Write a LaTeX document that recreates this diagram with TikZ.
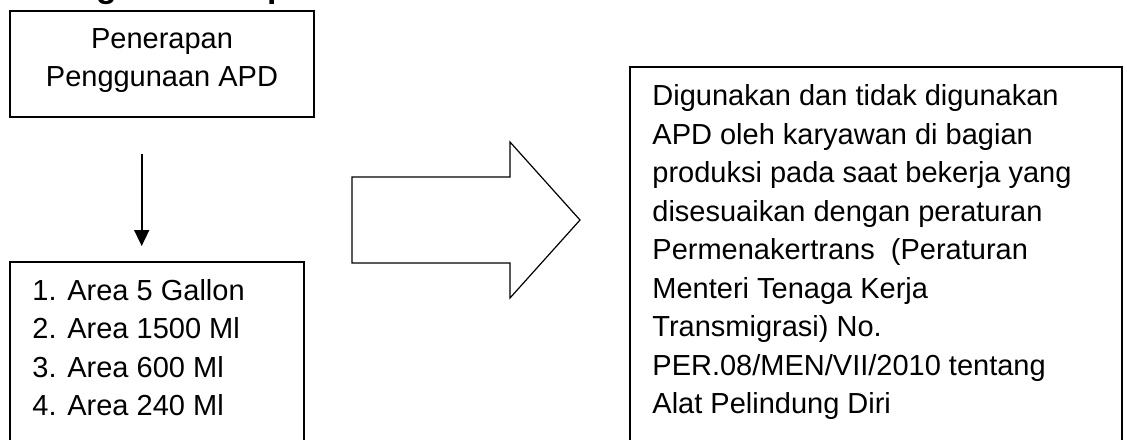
\documentclass[tikz,border=0pt]{standalone}
\usepackage{fontspec}
\setmainfont{Liberation Sans}
\usetikzlibrary{arrows.meta}

\tikzset{
  box/.style={draw, line width=0.6pt, inner sep=0pt},
  txt/.style={inner sep=0pt, anchor=north west, align=left,
    font=\fontsize{14.5}{19.25}\selectfont},
}

\begin{document}
\begin{tikzpicture}[x=0.5pt,y=-0.5pt]
          \useasboundingbox (0,0) rectangle (1127,439);
          \clip (0,0) rectangle (1127,439);

          % Heading (cut off by the page top)
          \node[anchor=base west, inner sep=0pt,
            font=\fontsize{16.9}{20}\selectfont\bfseries] (judul) at (0,-3) {Kerangka Konsep};

          % Variabel independen
          \node[box, minimum width=152pt, minimum height=53pt] (penerapan) at (162,64) {};
          \node[txt, anchor=north, align=center] (penerapanTxt) at (162,21)
            {\strut Penerapan\\Penggunaan APD};

          % Down arrow
          \coordinate (panahAtas) at (141.7,154);
          \coordinate (panahBawah) at (141.7,246);
          \draw[-{Triangle[length=8pt,width=7.5pt]}, line width=0.8pt] (panahAtas) -- (panahBawah);

          % Areas
          \node[box, minimum width=147pt, minimum height=119pt] (area) at (157,381) {};
          \node[txt] (areaTxt) at (32,273)
            {\strut\makebox[17.5pt][l]{1.}Area 5 Gallon\\
             \makebox[17.5pt][l]{2.}Area 1500 Ml\\
             \makebox[17.5pt][l]{3.}Area 600 Ml\\
             \makebox[17.5pt][l]{4.}Area 240 Ml};

          % Block arrow
          \draw[line width=0.6pt] (352,177) -- (510,177) -- (510,142) -- (580,220)
            -- (510,298) -- (510,263) -- (352,263) -- cycle;

          % Variabel dependen
          \node[box, minimum width=246pt, minimum height=206.5pt] (hasil) at (876,273.5) {};
          \node[txt] (hasilTxt) at (652,78.2)
            {\strut Digunakan dan tidak digunakan\\
             APD oleh karyawan di bagian\\
             produksi pada saat bekerja yang\\
             disesuaikan dengan peraturan\\
             Permenakertrans~ (Peraturan\\
             Menteri Tenaga Kerja\\
             Transmigrasi) No.\\
             PER.08/MEN/VII/2010 tentang\\
             Alat Pelindung Diri};
        \end{tikzpicture}
\end{document}
